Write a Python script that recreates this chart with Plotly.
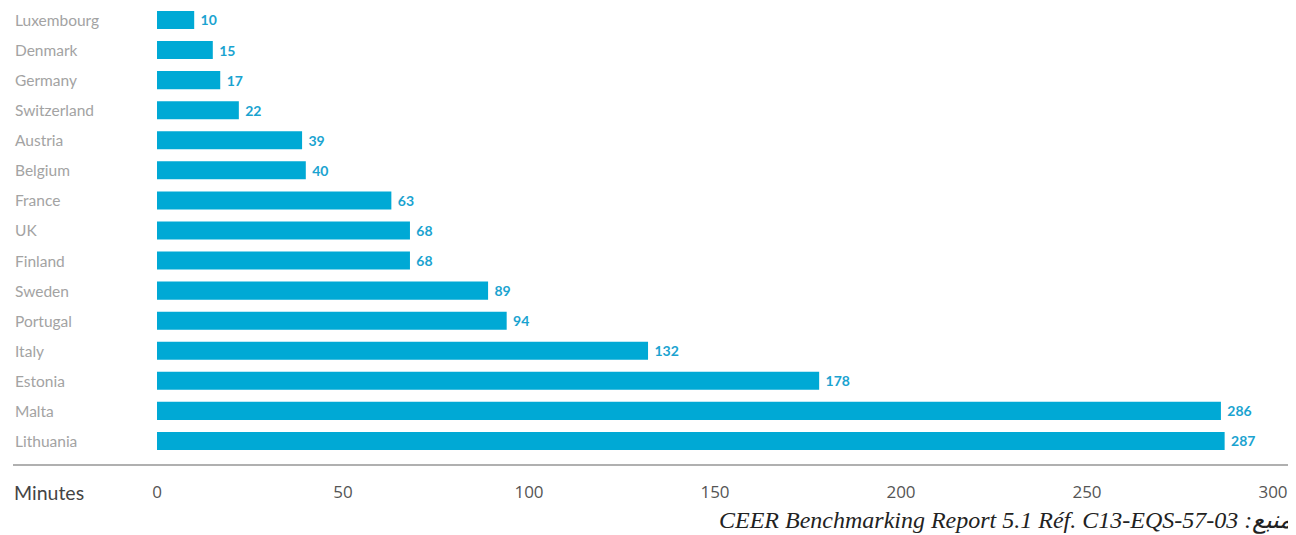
import plotly.graph_objects as go

countries = ["Luxembourg", "Denmark", "Germany", "Switzerland", "Austria", "Belgium",
             "France", "UK", "Finland", "Sweden", "Portugal", "Italy", "Estonia",
             "Malta", "Lithuania"]
minutes = [10, 15, 17, 22, 39, 40, 63, 68, 68, 89, 94, 132, 178, 286, 287]
x_ticks = [0, 50, 100, 150, 200, 250, 300]
axis_label = "Minutes"
source_text = "CEER Benchmarking Report 5.1 Réf. C13-EQS-57-03 :منبع"

# page body has an 8px margin; all positions below are in figure coordinates
OFF = 8
W, H = 1296 - OFF, 535 - OFF
ML, MR, MT, MB = 157 - OFF, 8, 0, 535 - 456
PW = W - ML - MR
PH = H - MT - MB

BAR = "#00a9d5"


def py(screen_y):
    return -(screen_y - OFF - (MT + PH)) / PH


def px(screen_x):
    return (screen_x - OFF - ML) / PW


fig = go.Figure(go.Bar(
    x=minutes, y=countries, orientation="h",
    marker=dict(color=BAR, line=dict(width=0)),
    text=minutes, texttemplate=" %{x}", textposition="outside",
    textfont=dict(family="Lato", size=14, color="#1aa3d0", weight="bold"),
    cliponaxis=False,
))

annotations = []
for c in countries:
    annotations.append(dict(
        x=px(13), xref="paper", y=c, yref="y",
        text=c, showarrow=False, xanchor="left", yanchor="middle",
        font=dict(family="Lato", size=15.5, color="#a3a3a3"),
    ))
annotations.append(dict(
    x=px(12), xref="paper", y=py(492), yref="paper",
    text=axis_label, showarrow=False, xanchor="left", yanchor="middle",
    font=dict(family="Lato", size=19.5, color="#444444"),
))
annotations.append(dict(
    x=px(1294), xref="paper", y=py(520), yref="paper",
    text="<i>" + source_text + "</i>", showarrow=False, xanchor="right", yanchor="middle",
    font=dict(family="Liberation Serif", size=24, color="#222222"),
))

fig.update_layout(
    width=W, height=H,
    margin=dict(l=ML, r=MR, t=MT, b=MB),
    paper_bgcolor="white", plot_bgcolor="white",
    bargap=0.4,
    showlegend=False,
    annotations=annotations,
    shapes=[dict(type="line", xref="paper", yref="paper",
                 x0=px(13), x1=px(1300), y0=py(465), y1=py(465),
                 line=dict(color="#b0b0b0", width=2))],
    xaxis=dict(range=[0, (PW) / 3.72], tickvals=x_ticks, ticktext=[str(t) for t in x_ticks],
               showgrid=False, zeroline=False, showline=False, ticks="",
               ticklabelstandoff=24,
               tickfont=dict(family="Open Sans", size=17, color="#555555")),
    yaxis=dict(range=[14.5, 14.5 - PH / 30.07], showticklabels=False, showgrid=False,
               zeroline=False, showline=False, ticks=""),
)

fig.write_html("out.html")
